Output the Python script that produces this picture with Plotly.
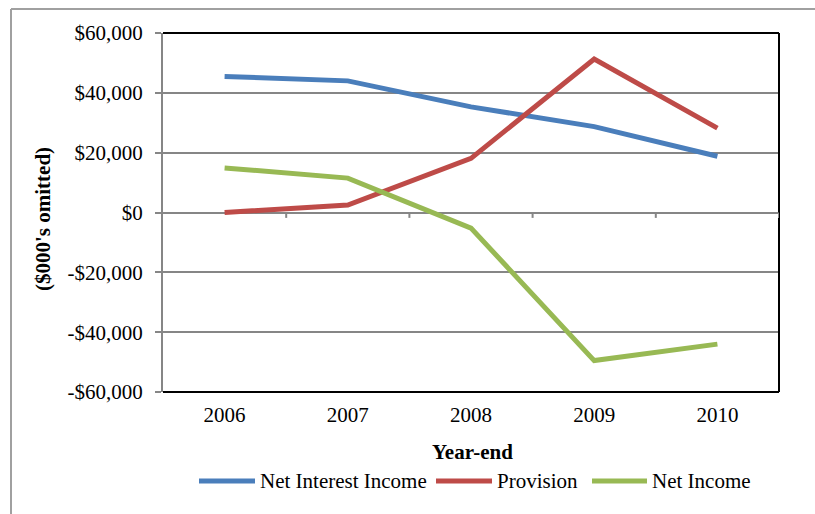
import plotly.graph_objects as go

# ---- data ($000's) ----
years = ["2006", "2007", "2008", "2009", "2010"]
net_interest_income = [45500, 44000, 35300, 28700, 18800]
provision = [0, 2500, 18100, 51300, 28200]
net_income = [14900, 11500, -5200, -49500, -44000]

series_names = ["Net Interest Income", "Provision", "Net Income"]
series_values = [net_interest_income, provision, net_income]
series_colors = ["#4A7EBB", "#BE4B48", "#98B954"]

y_tickvals = [-60000, -40000, -20000, 0, 20000, 40000, 60000]
y_ticktext = ["-$60,000", "-$40,000", "-$20,000", "$0", "$20,000", "$40,000", "$60,000"]

# ---- layout geometry (pixels) ----
W, H = 815, 514
L, R, T, B = 163, 779, 33, 392
FONT = "Liberation Serif"
GRID = "#868686"


def px_x(p):
    return (p - L) / (R - L)


def px_y(p):
    return (B - p) / (B - T)


fig = go.Figure()
for name, vals, col in zip(series_names, series_values, series_colors):
    fig.add_trace(go.Scatter(
        x=years, y=vals, name=name, mode="lines",
        line=dict(color=col, width=5),
        showlegend=False,
    ))

shapes = []
# plot-area border (top, right, bottom)
for x0, y0, x1, y1 in [(0, 1, 1, 1), (1, 0, 1, 1), (0, 0, 1, 0)]:
    shapes.append(dict(type="line", xref="paper", yref="paper",
                       x0=x0, y0=y0, x1=x1, y1=y1,
                       line=dict(color="black", width=2)))
# category-boundary tick marks on the zero axis
for b in [0.5, 1.5, 2.5, 3.5, 4.5]:
    shapes.append(dict(type="line", xref="x", yref="y",
                       x0=b, x1=b, y0=0, y1=-1800,
                       line=dict(color=GRID, width=2)))
# outer chart frame
shapes.append(dict(type="line", xref="paper", yref="paper",
                   x0=px_x(11), x1=px_x(11), y0=px_y(9), y1=px_y(H + 5),
                   line=dict(color="#A0A0A0", width=2)))
shapes.append(dict(type="line", xref="paper", yref="paper",
                   x0=px_x(11), x1=px_x(W + 5), y0=px_y(9), y1=px_y(9),
                   line=dict(color="#A0A0A0", width=2)))

annotations = [
    dict(text="<b>($000's omitted)</b>", xref="paper", yref="paper",
         x=px_x(43), y=px_y(219), textangle=-90, showarrow=False,
         font=dict(family=FONT, size=21, color="black"),
         xanchor="center", yanchor="middle"),
    dict(text="<b>Year-end</b>", xref="paper", yref="paper",
         x=px_x(472), y=px_y(452), showarrow=False,
         font=dict(family=FONT, size=21, color="black"),
         xanchor="center", yanchor="middle"),
]

# legend row
legend_items = [(199, 255, 258), (436, 492, 495), (592, 647, 650)]
for (lx0, lx1, tx), name, col in zip(legend_items, series_names, series_colors):
    shapes.append(dict(type="line", xref="paper", yref="paper",
                       x0=px_x(lx0), x1=px_x(lx1), y0=px_y(481), y1=px_y(481),
                       line=dict(color=col, width=5)))
    annotations.append(dict(text=name, xref="paper", yref="paper",
                            x=px_x(tx), y=px_y(481), showarrow=False,
                            xanchor="left", yanchor="middle",
                            font=dict(family=FONT, size=21, color="black")))

fig.update_layout(
    width=W, height=H,
    margin=dict(l=L, r=W - R, t=T, b=H - B, pad=0),
    paper_bgcolor="white", plot_bgcolor="white",
    font=dict(family=FONT, size=21, color="black"),
    shapes=shapes, annotations=annotations,
    xaxis=dict(
        type="category", range=[-0.5, 4.5],
        showgrid=False, showline=False, zeroline=False,
        ticks="", tickfont=dict(family=FONT, size=21, color="black"),
        ticklabelstandoff=8,
    ),
    yaxis=dict(
        range=[-60000, 60000], tickvals=y_tickvals, ticktext=y_ticktext,
        showgrid=True, gridcolor=GRID, gridwidth=1.5,
        zeroline=True, zerolinecolor=GRID, zerolinewidth=2,
        showline=True, linecolor=GRID, linewidth=2,
        ticks="outside", ticklen=6, tickcolor=GRID, tickwidth=1.5,
        tickfont=dict(family=FONT, size=21, color="black"),
        ticklabelstandoff=8,
    ),
)

fig.write_html("out.html")
